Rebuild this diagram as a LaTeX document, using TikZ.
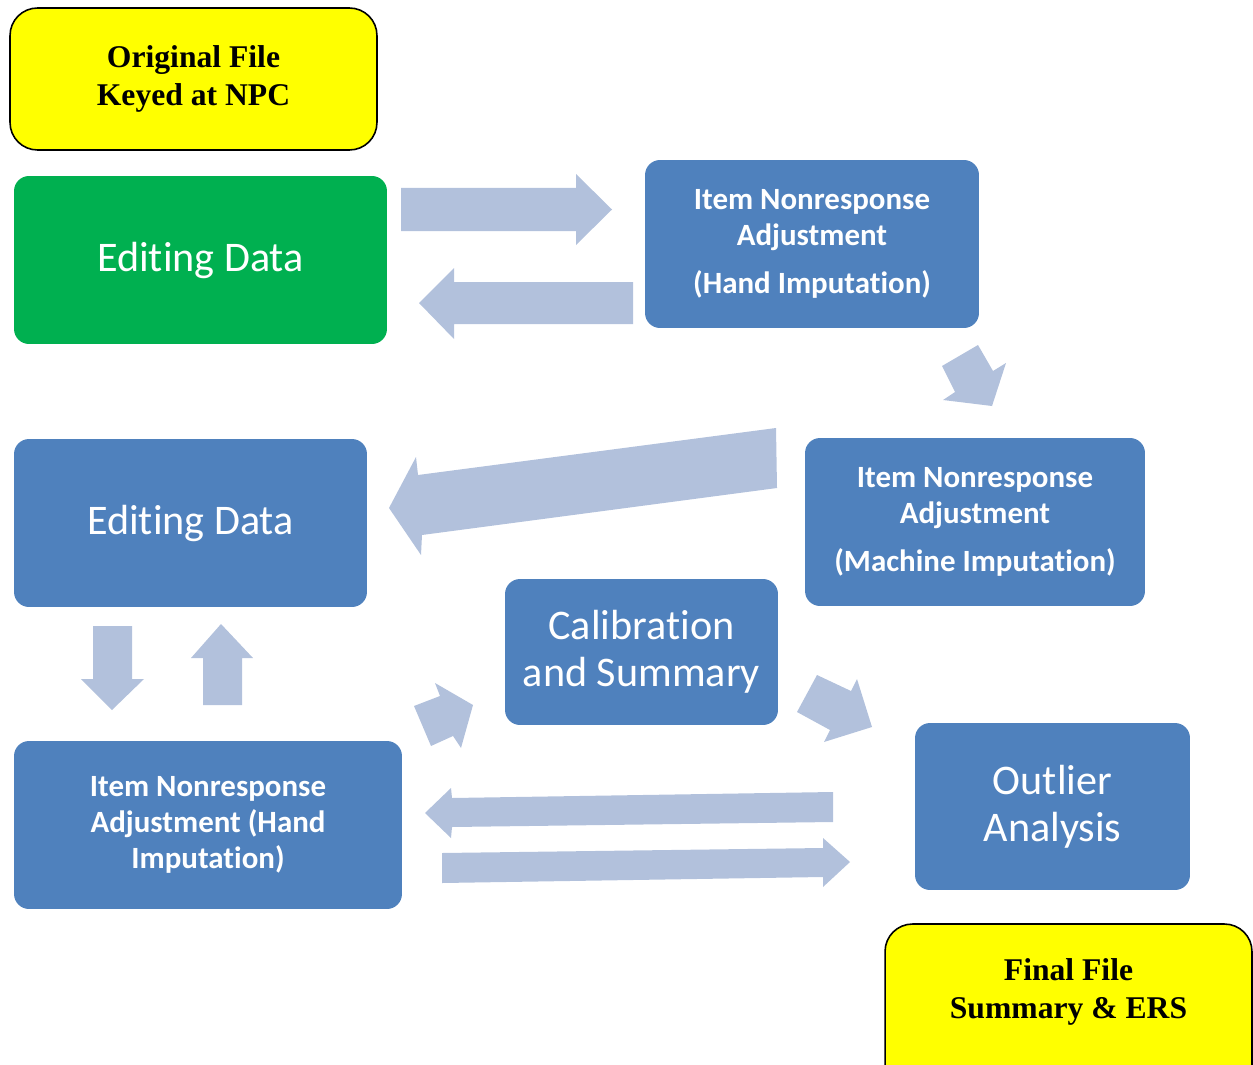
\documentclass[tikz,border=0pt]{standalone}
\usepackage{fontspec}
\setmainfont{Carlito}[Ligatures=NoCommon]
\newfontfamily\serifbox{Liberation Serif}
\usepackage{xcolor}
\usetikzlibrary{positioning}

\definecolor{boxblue}{HTML}{4F81BD}
\definecolor{boxgreen}{HTML}{00B050}
\definecolor{fileyellow}{HTML}{FFFF00}
\definecolor{arrowblue}{HTML}{B2C1DC}

\tikzset{
	stage/.style={rectangle, rounded corners=0.3cm, fill=boxblue, text=white,
		align=center, inner sep=0pt, minimum height=3.36cm},
	bigtext/.style={font=\fontsize{24}{26.6}\selectfont},
	itemtext/.style={font=\fontsize{17.6}{20.4}\selectfont\bfseries},
	filetext/.style={align=center, font=\serifbox\bfseries\fontsize{18}{22}\selectfont},
	filebox/.style={rectangle, rounded corners=0.55cm, draw=black, line width=0.9pt,
		fill=fileyellow, inner sep=0pt, minimum width=7.34cm, minimum height=2.84cm},
	blockarrow/.style={fill=arrowblue}
}

\begin{document}
\begin{tikzpicture}[x=0.02cm, y=-0.02cm]
		
		\useasboundingbox (0,0) rectangle (1253,1064);
		\clip (0,0) rectangle (1253,1064);
		
		% files
		\node[filebox, filetext] (orig) at (193.5,79) {Original File\\Keyed at NPC};
		\node[filebox, minimum height=3.4cm,
		label={[filetext, yshift=0.34cm]center:Final File\\Summary \& ERS}]
		(final) at (1068.5,1009) {};
		
		% stages
		\node[stage, bigtext, fill=boxgreen, minimum width=7.46cm] (edit1) at (200.5,260) {Editing Data};
		\node[stage, itemtext, minimum width=6.68cm] (handA) at (812,244)
		{Item Nonresponse\\Adjustment\\[7pt](Hand Imputation)};
		\node[stage, itemtext, minimum width=6.8cm] (machine) at (975,522)
		{Item Nonresponse\\Adjustment\\[7pt](Machine Imputation)};
		\node[stage, bigtext, minimum width=7.06cm] (edit2) at (190.5,523) {Editing Data};
		\node[stage, bigtext, minimum width=5.46cm, minimum height=2.92cm] (calib) at (641.5,652)
		{Calibration\\and Summary};
		\node[stage, itemtext, minimum width=7.76cm] (handB) at (208,825)
		{Item Nonresponse\\Adjustment (Hand\\Imputation)};
		\node[stage, bigtext, minimum width=5.5cm, minimum height=3.34cm] (outlier) at (1052.5,806.5)
		{Outlier\\Analysis};
		
		% block arrows
		\fill[blockarrow] (401,188) -- (576,188) -- (576,174) -- (612,209.5)
		-- (576,245) -- (576,231) -- (401,231) -- cycle;
		\fill[blockarrow] (633,282) -- (454,282) -- (454,268) -- (419,303)
		-- (454,339) -- (454,324) -- (633,324) -- cycle;
		\fill[blockarrow] (942,366) -- (978,345) -- (993,371) -- (1006,363)
		-- (992,406) -- (943,400) -- (955,392) -- cycle;
		\fill[blockarrow] (776,428) -- (418,475) -- (416,457) -- (389,508)
		-- (421,555) -- (422,535) -- (777,488) -- cycle;
		\fill[blockarrow] (93,626) -- (132,626) -- (132,679) -- (144,679)
		-- (112,710) -- (81,679) -- (93,679) -- cycle;
		\fill[blockarrow] (203,705) -- (242,705) -- (242,658) -- (253,658)
		-- (221,624) -- (191,658) -- (203,658) -- cycle;
		\fill[blockarrow] (414,706) -- (431,746) -- (453,736) -- (461,748)
		-- (473,705) -- (435,683) -- (440,696) -- cycle;
		\fill[blockarrow] (797,712) -- (817,675) -- (851,691) -- (857,679)
		-- (872,727) -- (824,742) -- (830,730) -- cycle;
		\fill[blockarrow] (833,792) -- (452,798) -- (451,788) -- (425,813)
		-- (451,838) -- (452,827) -- (833,822) -- cycle;
		\fill[blockarrow] (442,853) -- (823,848) -- (823,838) -- (850,862)
		-- (823,887) -- (823,877) -- (442,883) -- cycle;
		
	\end{tikzpicture}
\end{document}
